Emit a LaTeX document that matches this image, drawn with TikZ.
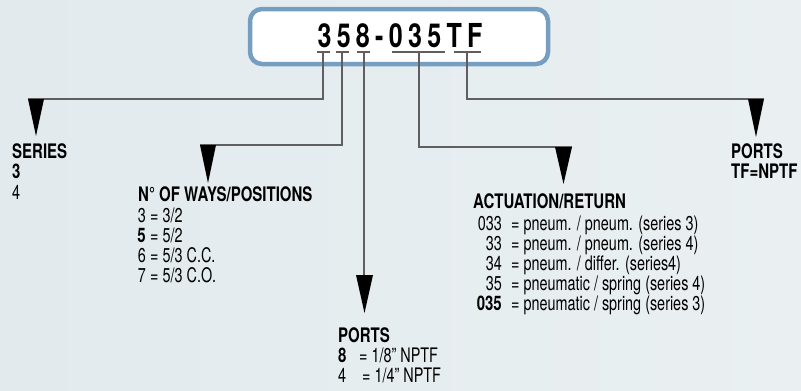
\documentclass[tikz,border=0pt]{standalone}
\usepackage{fontspec}
\setmainfont{TeX Gyre Heros}[FakeStretch=0.72]
\newfontfamily\headfont{TeX Gyre Heros Bold}[FakeStretch=0.75]
\newfontfamily\titlefont{TeX Gyre Heros Bold}[FakeStretch=0.76, LetterSpace=16]
\definecolor{bgA}{RGB}{226,234,238}
\definecolor{bgB}{RGB}{234,240,241}
\definecolor{boxblue}{RGB}{118,158,192}
\definecolor{linegray}{RGB}{95,95,95}
\tikzset{
  lbl/.style={anchor=base west, inner sep=0pt, font=\fontsize{20}{22}\selectfont},
  lblb/.style={lbl, font=\headfont\fontsize{20}{22}\selectfont},
  num/.style={anchor=base east, inner sep=0pt, font=\fontsize{20}{22}\selectfont},
  numb/.style={num, font=\headfont\fontsize{20}{22}\selectfont},
  conn/.style={draw=linegray, line width=1.3pt},
  uline/.style={draw=linegray, line width=1.6pt},
  tip/.style={fill=black, draw=none},
}
\begin{document}
\begin{tikzpicture}[x=1pt, y=-1pt]
\useasboundingbox (0,0) rectangle (801,391);
\shade[left color=bgA, right color=bgB] (0,0) rectangle (801,391);
% code box
\node[draw=boxblue, line width=4.5pt, fill=white, rounded corners=12pt,
      minimum width=298pt, minimum height=55pt, inner sep=0pt] (box) at (399,36.5) {};
\node[font=\titlefont\fontsize{33}{36}\selectfont, inner sep=0pt, anchor=base] (code) at (400,47) {358-035TF};
% underlines
\draw[uline] (317,52) -- (330,52);
\draw[uline] (336,52) -- (349,52);
\draw[uline] (357,52) -- (370,52);
\draw[uline] (392,52) -- (445,52);
\draw[uline] (454,52) -- (481,52);
% anchor coordinates
\coordinate (c3) at (323,53);
\coordinate (c5) at (342,53);
\coordinate (c8) at (364,53);
\coordinate (c035) at (419,53);
\coordinate (cTF) at (467,53);
\coordinate (t1) at (36,99);
\coordinate (t2) at (208,145);
\coordinate (t3) at (364.5,275);
\coordinate (t4) at (563.5,147);
\coordinate (t5) at (756,99);
% connectors
\draw[conn] (c3) |- (28,99);
\draw[conn] (c5) |- (200,145);
\draw[conn] (c8) -- (364,276);
\draw[conn] (c035) |- (572,147);
\draw[conn] (cTF) |- (764,99);
% arrow tips
\fill[tip] ([xshift=-8pt]t1) -- ([xshift=8pt]t1) -- ([yshift=-37pt]t1) -- cycle;
\fill[tip] ([xshift=-8pt]t2) -- ([xshift=8pt]t2) -- ([yshift=-38pt]t2) -- cycle;
\fill[tip] ([xshift=-8.5pt]t3) -- ([xshift=8.5pt]t3) -- ([yshift=-38pt]t3) -- cycle;
\fill[tip] ([xshift=-8.5pt]t4) -- ([xshift=8.5pt]t4) -- ([yshift=-37pt]t4) -- cycle;
\fill[tip] ([xshift=-8pt]t5) -- ([xshift=8pt]t5) -- ([yshift=-38pt]t5) -- cycle;
% SERIES
\node[lblb] (s0) at (12,158) {SERIES};
\node[lblb] (s1) at (12,178) {3};
\node[lbl] (s2) at (12,199) {4};
% WAYS
\node[lblb] (w0) at (138,201) {N° OF WAYS/POSITIONS};
\node[num] (w1n) at (146,222) {3};
\node[lbl] (w1) at (150,222) {= 3/2};
\node[numb] (w2n) at (146,242) {5};
\node[lbl] (w2) at (150,242) {= 5/2};
\node[num] (w3n) at (146,262) {6};
\node[lbl] (w3) at (150,262) {= 5/3 C.C.};
\node[num] (w4n) at (146,282) {7};
\node[lbl] (w4) at (150,282) {= 5/3 C.O.};
% PORTS 8
\node[lblb] (p0) at (338,342) {PORTS};
\node[lblb] (p1n) at (338,362) {8};
\node[lbl] (p1) at (359,362) {= 1/8” NPTF};
\node[lbl] (p2n) at (338,382) {4};
\node[lbl] (p2) at (362,382) {= 1/4” NPTF};
% ACTUATION
\node[lblb] (a0) at (473,208) {ACTUATION/RETURN};
\node[num] (a1n) at (502,230) {033};
\node[lbl] (a1) at (511,230) {= pneum. / pneum. (series 3)};
\node[num] (a2n) at (502,250) {33};
\node[lbl] (a2) at (511,250) {= pneum. / pneum. (series 4)};
\node[num] (a3n) at (502,270) {34};
\node[lbl] (a3) at (511,270) {= pneum. / differ. (series4)};
\node[num] (a4n) at (502,290) {35};
\node[lbl] (a4) at (511,290) {= pneumatic / spring (series 4)};
\node[numb] (a5n) at (502,310) {035};
\node[lbl] (a5) at (511,310) {= pneumatic / spring (series 3)};
% PORTS TF
\node[lblb] (q0) at (731,158) {PORTS};
\node[lblb] (q1) at (731,178) {TF=NPTF};
\end{tikzpicture}
\end{document}
